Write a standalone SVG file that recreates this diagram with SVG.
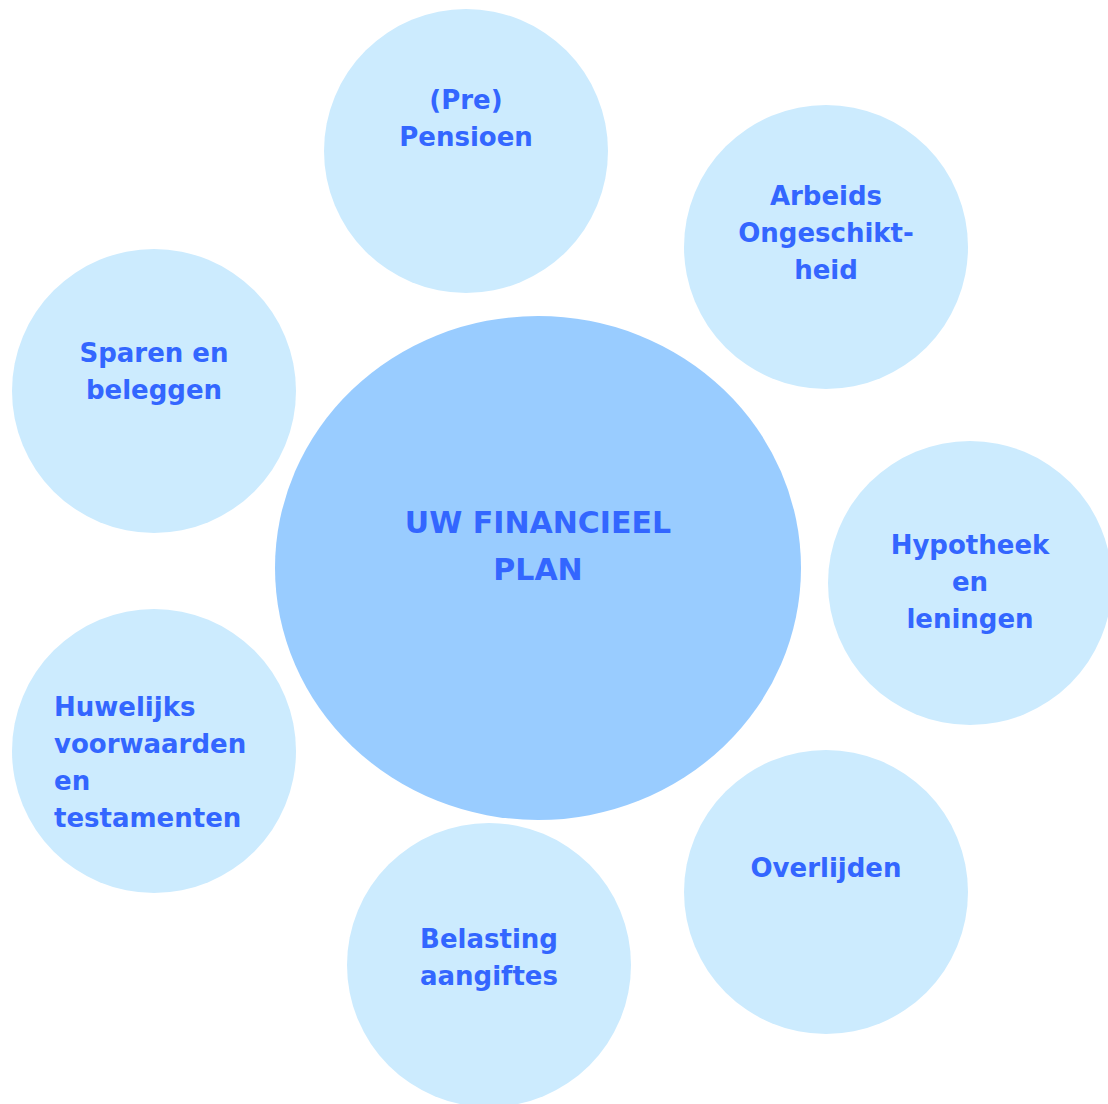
<svg xmlns="http://www.w3.org/2000/svg" width="1108" height="1104" viewBox="0 0 1108 1104">
<style>
.s{fill:#CCEBFE}
.b{fill:#99CCFF}
text{font-family:"DejaVu Sans",Verdana,sans-serif;font-weight:bold;fill:#3366FF;font-size:26px}
.c{text-anchor:middle}
.big{font-size:30px}
</style>
<rect width="1108" height="1104" fill="#FFFFFF"/>
<g id="connectors"></g>
<g id="center">
<ellipse class="b" cx="538" cy="568" rx="263" ry="252"/>
<text class="c big" x="538" y="533">UW FINANCIEEL</text>
<text class="c big" x="538" y="580">PLAN</text>
</g>
<g id="pensioen">
<circle class="s" cx="466" cy="151" r="142"/>
<text class="c" x="466" y="109">(Pre)</text>
<text class="c" x="466" y="146">Pensioen</text>
</g>
<g id="arbeids">
<circle class="s" cx="826" cy="247" r="142"/>
<text class="c" x="826" y="205">Arbeids</text>
<text class="c" x="826" y="242">Ongeschikt-</text>
<text class="c" x="826" y="279">heid</text>
</g>
<g id="sparen">
<circle class="s" cx="154" cy="391" r="142"/>
<text class="c" x="154" y="362">Sparen en</text>
<text class="c" x="154" y="399">beleggen</text>
</g>
<g id="hypotheek">
<circle class="s" cx="970" cy="583" r="142"/>
<text class="c" x="970" y="554">Hypotheek</text>
<text class="c" x="970" y="591">en</text>
<text class="c" x="970" y="628">leningen</text>
</g>
<g id="huwelijks">
<circle class="s" cx="154" cy="751" r="142"/>
<text x="54" y="716">Huwelijks</text>
<text x="54" y="753">voorwaarden</text>
<text x="54" y="790">en</text>
<text x="54" y="827">testamenten</text>
</g>
<g id="overlijden">
<circle class="s" cx="826" cy="892" r="142"/>
<text class="c" x="826" y="877">Overlijden</text>
</g>
<g id="belasting">
<circle class="s" cx="489" cy="965" r="142"/>
<text class="c" x="489" y="948">Belasting</text>
<text class="c" x="489" y="985">aangiftes</text>
</g>
</svg>
